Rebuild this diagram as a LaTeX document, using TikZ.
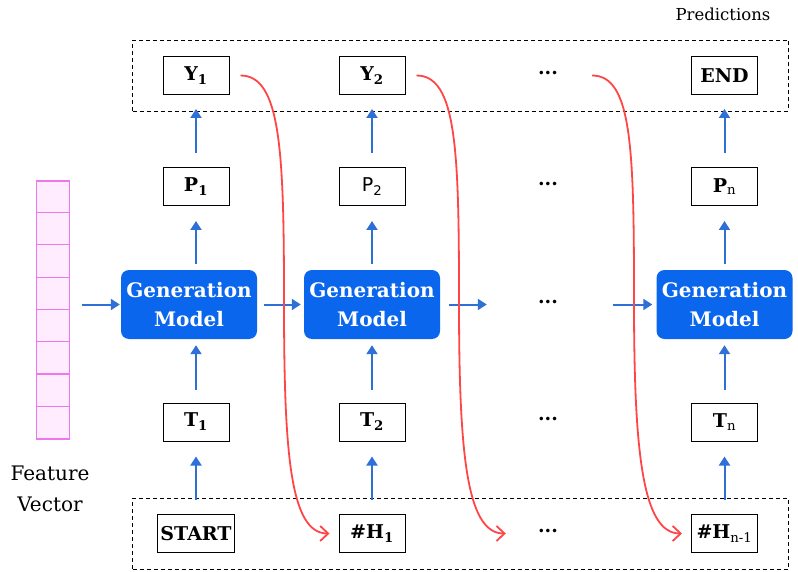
\documentclass[tikz,border=0pt]{standalone}
\usepackage{fontspec}
\setmainfont{DejaVu Serif}
\newfontfamily\sansfont{DejaVu Sans}
\usetikzlibrary{arrows.meta}
\usetikzlibrary{positioning}
\usetikzlibrary{fit}
\definecolor{gblue}{rgb}{0.04, 0.40, 0.93}
\definecolor{ablue}{rgb}{0.18, 0.44, 0.84}
\definecolor{hred}{rgb}{1.0, 0.27, 0.27}
\definecolor{vpink}{rgb}{0.93, 0.47, 0.93}
\definecolor{vfill}{rgb}{1.0, 0.93, 1.0}
\newcommand{\rowdots}{\raisebox{0.3em}{\textbf{...}}}

\begin{document}
\begin{tikzpicture}[x=1pt, y=-1pt,
    tok/.style={draw, line width=1pt, minimum width=66pt, minimum height=38pt, inner sep=2pt, font=\fontsize{19}{22}\selectfont\bfseries},
    gap/.style={minimum width=66pt, minimum height=38pt, inner sep=2pt, font=\fontsize{19}{22}\selectfont\bfseries},
    gen/.style={fill=gblue, rounded corners=8pt, minimum width=136pt, minimum height=69pt, text=white, align=center, font=\fontsize{20}{29}\selectfont\bfseries},
    flow/.style={ablue, line width=2pt, -{Triangle[length=9pt,width=11pt]}},
    back/.style={hred, line width=1.8pt, -{Straight Barb[length=8pt,width=15pt]}},
    frame/.style={draw, line width=0.9pt, dash pattern=on 4pt off 3pt, inner xsep=30pt, inner ysep=16pt}]
    \useasboundingbox (0, 0) rectangle (798, 572);

    % predictions
    \node [tok] (y1) at (196, 75.5) {Y\textsubscript{1}};
    \node [tok] (y2) at (372, 75.5) {Y\textsubscript{2}};
    \node [gap] (ydots) at (548, 75.5) {\rowdots};
    \node [tok] (yend) at (724.5, 75.5) {END};
    \node [frame, fit=(y1)(yend)] (preds) {};
    \node [font=\fontsize{16.5}{19}\selectfont] (predlabel) at (723, 14) {Predictions};

    % probabilities
    \node [tok] (p1) at (196, 186.5) {P\textsubscript{1}};
    \node [tok, font=\fontsize{19}{22}\selectfont\sansfont] (p2) at (372, 186.5) {P\textsubscript{2}};
    \node [gap] (pdots) at (548, 186.5) {\rowdots};
    \node [tok] (pn) at (724.5, 186.5) {P\textsubscript{\mdseries n}};

    % models
    \node [gen] (gen1) at (189, 304.5) {Generation\\Model};
    \node [gen] (gen2) at (372, 304.5) {Generation\\Model};
    \node [gap] (gdots) at (548, 304.5) {\rowdots};
    \node [gen] (gen3) at (724.5, 304.5) {Generation\\Model};

    % tokens
    \node [tok] (t1) at (196, 422) {T\textsubscript{1}};
    \node [tok] (t2) at (372, 422) {T\textsubscript{2}};
    \node [gap] (tdots) at (548, 422) {\rowdots};
    \node [tok] (tn) at (724.5, 422) {T\textsubscript{\mdseries n}};

    % history
    \node [tok, minimum width=77pt] (start) at (196, 533.5) {START};
    \node [tok] (h1) at (372, 533.5) {\#H\textsubscript{1}};
    \node [gap] (hdots) at (548, 533.5) {\rowdots};
    \node [tok] (hn) at (724.5, 533.5) {\#H\textsubscript{\mdseries n-1}};
    \node [frame, fit=(y1.west |- start.north)(hn.south east)] (inputs) {};

    % feature vector
    \node [draw=vpink, fill=vfill, line width=1.2pt, minimum width=32.6pt, minimum height=258pt, inner sep=0pt] (fv) at (53, 310) {};
    \foreach \k in {1,...,7}
      \draw [vpink, line width=1.2pt] ([yshift=-\k*32.25pt]fv.north west) -- ([yshift=-\k*32.25pt]fv.north east);
    \node [align=center, font=\fontsize{20}{31}\selectfont] (fvlabel) at (50, 489) {Feature\\Vector};

    % upward flow
    \draw [flow, shorten <=14pt, shorten >=14pt] (p1) -- (y1);
    \draw [flow, shorten <=14pt, shorten >=14pt] (p2) -- (y2);
    \draw [flow, shorten <=14pt, shorten >=14pt] (pn) -- (yend);
    \draw [flow, shorten <=6pt, shorten >=15pt] (gen1.north -| p1) -- (p1);
    \draw [flow, shorten <=6pt, shorten >=15pt] (gen2) -- (p2);
    \draw [flow, shorten <=6pt, shorten >=15pt] (gen3) -- (pn);
    \draw [flow, shorten <=13pt, shorten >=6pt] (t1) -- (t1 |- gen1.south);
    \draw [flow, shorten <=13pt, shorten >=6pt] (t2) -- (gen2);
    \draw [flow, shorten <=13pt, shorten >=6pt] (tn) -- (gen3);
    \draw [flow, shorten <=14pt, shorten >=15pt] (start) -- (t1);
    \draw [flow, shorten <=14pt, shorten >=15pt] (h1) -- (t2);
    \draw [flow, shorten <=14pt, shorten >=15pt] (hn) -- (tn);

    % sideways flow
    \draw [flow, shorten <=12pt, shorten >=1pt] (fv.east |- gen1) -- (gen1);
    \draw [flow, shorten <=7pt, shorten >=3pt] (gen1) -- (gen2);
    \draw [flow, shorten <=9pt, shorten >=28pt] (gen2) -- (gdots);
    \draw [flow, shorten <=32pt, shorten >=4pt] (gdots) -- (gen3);

    % fed back predictions
    \draw [back] ([xshift=11pt]y1.east) .. controls +(40, 0) and +(0, -150) .. (284, 300)
      .. controls +(0, 150) and +(-40, 0) .. ([xshift=-9pt]h1.west);
    \draw [back] ([xshift=11pt]y2.east) .. controls +(40, 0) and +(0, -150) .. (459, 300)
      .. controls +(0, 150) and +(-40, 0) .. ([xshift=-9pt]hdots.west);
    \draw [back] ([xshift=11pt]ydots.east) .. controls +(40, 0) and +(0, -150) .. (634, 300)
      .. controls +(0, 150) and +(-40, 0) .. ([xshift=-9pt]hn.west);
  \end{tikzpicture}
\end{document}
